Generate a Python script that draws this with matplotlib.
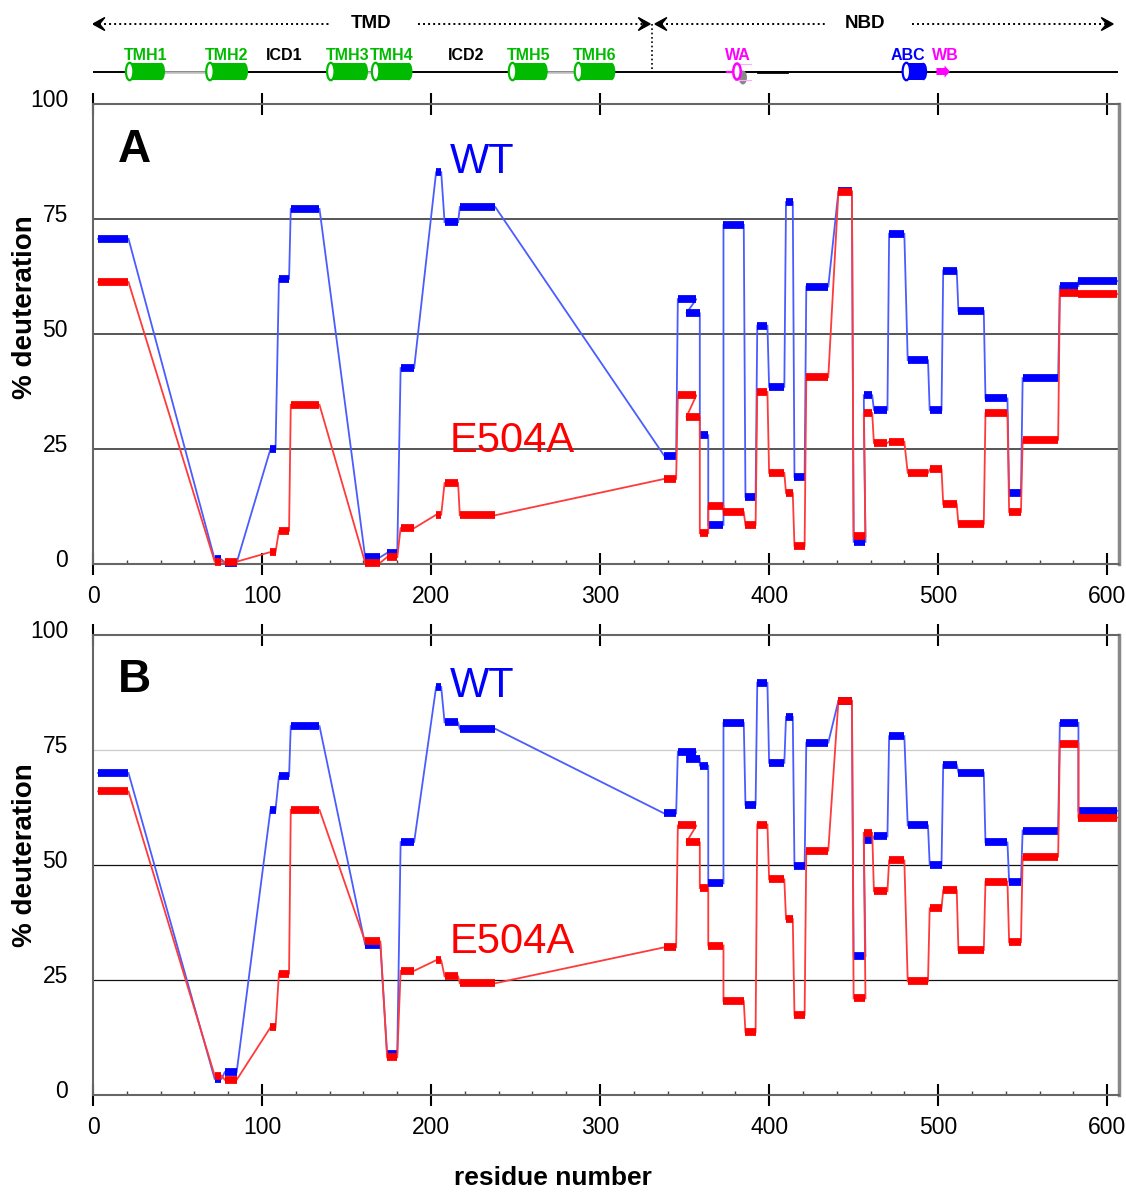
import matplotlib
matplotlib.use('Agg')
import matplotlib.pyplot as plt
from matplotlib.patches import Polygon, Ellipse, Rectangle
from matplotlib.transforms import ScaledTranslation
import numpy as np

plt.rcParams['font.family'] = ['Liberation Sans', 'DejaVu Sans']

W, H, DPI = 1126, 1192, 100

# ---------------- data: peptides (residue start / end) ----------------
pep_start = [3, 72, 78, 105, 110, 117, 161, 174, 182, 203, 208, 217,
             338, 346, 351, 359, 364, 373, 386, 393, 400, 410, 415, 422,
             441, 450, 456, 462, 471, 482, 495, 503, 512, 528, 542, 550,
             572, 583]
pep_end = [21, 76, 85, 108, 116, 134, 170, 180, 190, 206, 216, 238,
           345, 357, 359, 364, 373, 385, 392, 399, 409, 414, 421, 435,
           449, 457, 461, 470, 480, 494, 502, 511, 527, 541, 549, 571,
           583, 606]

# panel A (% deuteration)
wt_A = [70.7, 1.0, 0.3, 25.0, 62.0, 77.2, 1.5, 2.4, 42.6, 85.2, 74.3, 77.6,
        23.5, 57.6, 54.5, 28.0, 8.5, 73.7, 14.6, 51.8, 38.5, 78.7, 18.9, 60.3,
        81.0, 4.8, 36.7, 33.5, 71.8, 44.3, 33.5, 63.8, 55.0, 36.0, 15.4, 40.4,
        60.4, 61.5]
mut_A = [61.3, 0.5, 0.5, 2.6, 7.2, 34.6, 0.3, 1.5, 7.8, 10.7, 17.6, 10.6,
         18.5, 36.7, 31.9, 6.7, 12.6, 11.3, 8.5, 37.4, 19.8, 15.4, 3.9, 40.6,
         80.9, 6.0, 32.8, 26.3, 26.6, 19.8, 20.6, 13.0, 8.7, 32.8, 11.3, 27.0,
         59.0, 58.7]

# panel B (% deuteration)
wt_B = [70.0, 3.5, 5.0, 62.0, 69.3, 80.2, 32.7, 9.0, 55.0, 88.7, 81.0, 79.6,
        61.2, 74.6, 73.1, 71.6, 46.0, 80.9, 63.1, 89.6, 72.2, 82.2, 49.7, 76.6,
        85.7, 30.2, 55.5, 56.2, 78.0, 58.6, 50.1, 71.8, 70.1, 54.9, 46.4, 57.5,
        80.9, 61.8]
mut_B = [66.0, 4.2, 3.3, 14.7, 26.4, 62.0, 33.4, 8.2, 27.0, 29.3, 25.8, 24.3,
         32.1, 58.6, 54.9, 45.0, 32.5, 20.4, 13.7, 58.8, 46.9, 38.2, 17.4, 53.1,
         85.7, 21.0, 57.0, 44.3, 51.0, 24.7, 40.6, 44.5, 31.5, 46.4, 33.2, 51.8,
         76.4, 60.3]

x_ticks = [0, 100, 200, 300, 400, 500, 600]
y_ticks = [0, 25, 50, 75, 100]
series_names = ['WT', 'E504A']

# ---------------- domain diagram (residues) ----------------
helix_names = ['TMH1', 'TMH2', 'TMH3', 'TMH4', 'TMH5', 'TMH6']
helix_start = [19.5, 67, 138.5, 165, 246, 285]
helix_end = [42.6, 91.7, 162.7, 189, 269, 309]
icd_names = ['ICD1', 'ICD2']
icd_center = [113, 221]
domain_names = ['TMD', 'NBD']
domain_start = [0, 332.5]
domain_end = [329.6, 603.5]
domain_text = [164.5, 457]
domain_gap = [(141, 192), (434, 484.6)]
boundary_res = 331
wa_range = [378, 385]
abc_range = [479, 493.5]
wb_range = [499, 507]

fig = plt.figure(figsize=(W / DPI, H / DPI), dpi=DPI)

XMAX = 607
GREEN = '#00bb00'
MAG = '#ff00ff'
LBL = 11.5


def draw_series(ax, vals, thin_color, bar_color, z):
    xs, ys = [], []
    for s, e, v in zip(pep_start, pep_end, vals):
        xs += [s, e]
        ys += [v, v]
    ax.plot(xs, ys, color=thin_color, lw=1.3, zorder=z, clip_on=False,
            solid_joinstyle='miter')
    ax.hlines(vals, pep_start, pep_end, colors=bar_color, lw=5.6,
              zorder=z + 0.5, capstyle='butt', clip_on=False)


def setup(ax, grid_specs):
    ax.set_xlim(0, XMAX)
    ax.set_ylim(0, 100)
    for y, c, lw in grid_specs:
        ax.axhline(y, color=c, lw=lw, zorder=1)
    for name, sp in ax.spines.items():
        sp.set_color('#666666')
        sp.set_linewidth(1.5)
    ax.spines['right'].set_color('#888888')
    ax.spines['right'].set_linewidth(2.5)
    ax.set_xticks(x_ticks)
    ax.set_xticks(np.arange(0, 607, 20), minor=True)
    ax.tick_params(axis='x', which='major', direction='inout', length=16,
                   width=1.5, top=True, labelsize=16.5, pad=7, color='black')
    ax.tick_params(axis='x', which='minor', direction='in', length=3,
                   width=1, color='#444444', top=False)
    ax.set_yticks(y_ticks)
    ax.set_yticklabels([str(v) for v in y_ticks])
    ax.tick_params(axis='y', length=0, labelsize=16.5, pad=18)
    off = ScaledTranslation(0, 0.06, fig.dpi_scale_trans)
    for lab in ax.get_yticklabels():
        lab.set_transform(lab.get_transform() + off)


axA = fig.add_axes([93 / W, 1 - 564 / H, 1026 / W, 460 / H])
axB = fig.add_axes([93 / W, 1 - 1095 / H, 1026 / W, 460 / H])

setup(axA, [(25, '#555555', 1.4), (50, '#555555', 1.4), (75, '#555555', 1.4)])
setup(axB, [(25, '#111111', 0.9), (50, '#111111', 0.9), (75, '#cccccc', 0.9)])

for ax, wt, mut in [(axA, wt_A, mut_A), (axB, wt_B, mut_B)]:
    draw_series(ax, wt, '#4a5cff', '#0000ff', 3)
    draw_series(ax, mut, '#ff3a3a', '#ff0000', 5)

# panel texts
axA.text(14.8, 87.4, 'A', fontsize=33, fontweight='bold', ha='left', va='baseline')
axB.text(14.8, 87.6, 'B', fontsize=33, fontweight='bold', ha='left', va='baseline')
axA.text(211, 85.0, series_names[0], fontsize=30, color='#0000ff', ha='left', va='baseline')
axA.text(211, 24.3, series_names[1], fontsize=30, color='#ff0000', ha='left', va='baseline')
axB.text(211, 86.5, series_names[0], fontsize=30, color='#0000ff', ha='left', va='baseline')
axB.text(211, 30.9, series_names[1], fontsize=30, color='#ff0000', ha='left', va='baseline')

fig.text(25 / W, 1 - 307 / H, '% deuteration', rotation=90, ha='center',
         va='center', fontsize=20, fontweight='bold')
fig.text(25 / W, 1 - 855 / H, '% deuteration', rotation=90, ha='center',
         va='center', fontsize=20, fontweight='bold')
fig.text(553 / W, 1 - 1178 / H, 'residue number', ha='center', va='center',
         fontsize=19, fontweight='bold')

# ---------------- top domain diagram ----------------
axd = fig.add_axes([93 / W, 1 - 95 / H, 1026 / W, 95 / H])
axd.set_xlim(0, XMAX)
axd.set_ylim(95, 0)
axd.axis('off')

LY = 71.5
ARR_Y = 24
axd.plot([0, 606], [LY, LY], color='black', lw=1.4, zorder=1)
# extracellular loops (gray)
for a, b in [(0, 1), (2, 3), (4, 5)]:
    axd.plot([helix_end[a], helix_start[b]], [LY, LY], color='#bbbbbb', lw=1.8, zorder=1.5)
# slightly thicker segment after WA
axd.plot([393.5, 410.6], [LY, LY], color='black', lw=2.0, zorder=1.5)


def cylinder(s, e, color, h=17.5, ew=4.4):
    axd.add_patch(Rectangle((s + ew / 2, LY - h / 2), e - s - ew, h,
                            facecolor=color, edgecolor='none', zorder=3))
    axd.add_patch(Ellipse((e - ew / 2, LY), ew, h, facecolor=color,
                          edgecolor='none', zorder=3))
    axd.add_patch(Ellipse((s + ew / 2, LY), ew, h, facecolor='white',
                          edgecolor=color, lw=1.6, zorder=4))


for name, s, e in zip(helix_names, helix_start, helix_end):
    cylinder(s, e, GREEN)
    axd.text((s + e) / 2, 55, name, color=GREEN, fontsize=LBL,
             fontweight='bold', ha='center', va='center')
for name, c in zip(icd_names, icd_center):
    axd.text(c, 55, name, color='black', fontsize=LBL, fontweight='bold',
             ha='center', va='center')

# ABC cylinder
cylinder(abc_range[0], abc_range[1], '#0000ff')
axd.text(482, 55, 'ABC', color='#0000ff', fontsize=LBL, fontweight='bold',
         ha='center', va='center')
# WA motif
axd.add_patch(Ellipse((wa_range[1] - 0.5, LY + 6), 4.8, 14, facecolor='#888888',
                      edgecolor='none', zorder=3))
axd.plot([wa_range[0] - 3, wa_range[0] + 1], [LY, LY], color=MAG, lw=1.6, zorder=4)
axd.plot([wa_range[0] + 2, wa_range[1] + 4], [LY - 8, LY - 8], color='#ffaaff', lw=0.8, zorder=4)
axd.plot([wa_range[0] + 2, wa_range[1] + 4], [LY + 8, LY + 8], color='#ffaaff', lw=0.8, zorder=4)
axd.add_patch(Ellipse((wa_range[0] + 3, LY), 4.4, 16, facecolor='white',
                      edgecolor=MAG, lw=1.8, zorder=5))
axd.text(sum(wa_range) / 2, 55, 'WA', color=MAG, fontsize=LBL,
         fontweight='bold', ha='center', va='center')
# WB arrow
wb_mid = wb_range[0] + 0.6 * (wb_range[1] - wb_range[0])
axd.add_patch(Polygon([(wb_range[0], LY - 3.5), (wb_mid, LY - 3.5), (wb_mid, LY - 6),
                       (wb_range[1], LY), (wb_mid, LY + 6), (wb_mid, LY + 3.5),
                       (wb_range[0], LY + 3.5)], closed=True, facecolor=MAG,
                      edgecolor='none', zorder=4))
axd.text(504, 55, 'WB', color=MAG, fontsize=LBL, fontweight='bold',
         ha='center', va='center')

# domain arrows
L = 7.0
for name, s, e, tx, gap in zip(domain_names, domain_start, domain_end,
                               domain_text, domain_gap):
    axd.plot([s + L * 0.5, gap[0]], [ARR_Y, ARR_Y], color='black', lw=1.4,
             ls=(0, (1, 1.6)), zorder=2)
    axd.plot([gap[1], e - L * 0.5], [ARR_Y, ARR_Y], color='black', lw=1.4,
             ls=(0, (1, 1.6)), zorder=2)
    axd.add_patch(Polygon([(s, ARR_Y), (s + L, ARR_Y - 6.5), (s + L * 0.55, ARR_Y),
                           (s + L, ARR_Y + 6.5)], closed=True, color='black', zorder=3))
    axd.add_patch(Polygon([(e, ARR_Y), (e - L, ARR_Y - 6.5), (e - L * 0.55, ARR_Y),
                           (e - L, ARR_Y + 6.5)], closed=True, color='black', zorder=3))
    axd.text(tx, ARR_Y, name, fontsize=13.5, fontweight='bold', ha='center',
             va='center')
axd.plot([boundary_res, boundary_res], [ARR_Y, LY], color='black', lw=1.2,
         ls=(0, (1, 1.6)), zorder=2)

fig.savefig('out.png', dpi=DPI)
